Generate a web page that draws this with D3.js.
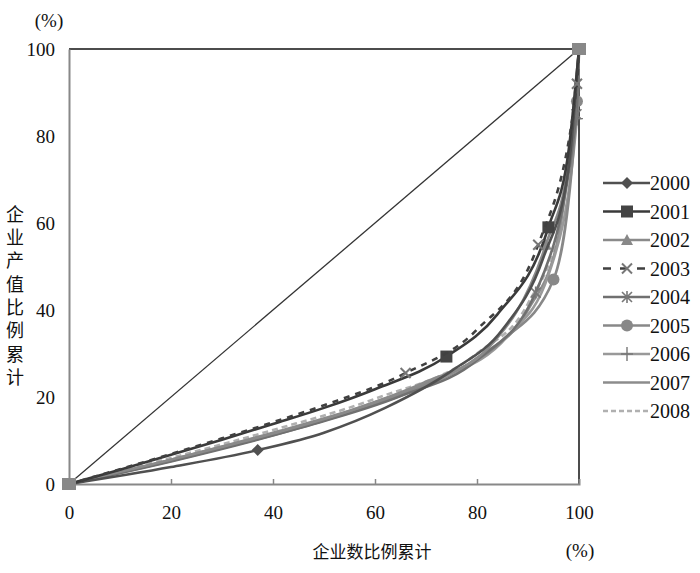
<!DOCTYPE html>
<html><head><meta charset="utf-8">
<script src="https://cdn.jsdelivr.net/npm/d3@7"></script>
<style>body{margin:0;background:#fff}</style>
</head><body>
<svg id="c" width="700" height="573"></svg>
<script>
const years = ["2000","2001","2002","2003","2004","2005","2006","2007","2008"];
const x2000 = [0, 20, 37, 50, 62, 75, 85, 93, 98, 100];
const y2000 = [0, 3.9, 7.8, 11.8, 17.5, 26, 35.5, 52, 73, 100];
const x2001 = [0, 10, 20, 30, 40, 50, 60, 74, 84, 94, 98, 100];
const y2001 = [0, 3.3, 6.7, 10.2, 13.8, 17.5, 21.8, 29.3, 39, 59, 77, 100];
const x2002 = [0, 20, 40, 55, 70, 82, 93.5, 98, 100];
const y2002 = [0, 5.6, 11.6, 16.8, 23.5, 31, 55, 74, 100];
const x2003 = [0, 10, 20, 30, 40, 50, 66, 80, 92, 99.6, 100];
const y2003 = [0, 3.4, 6.9, 10.5, 14.2, 18.1, 25.5, 35.5, 55, 92, 100];
const x2004 = [0, 20, 45, 65, 80, 91.5, 99.5, 100];
const y2004 = [0, 5.2, 12.8, 20.2, 28.5, 44, 85, 100];
const x2005 = [0, 20, 50, 70, 85, 95, 99.6, 100];
const y2005 = [0, 5.4, 14.6, 23, 33, 47, 88, 100];
const x2006 = [0, 20, 40, 55, 72, 86, 94, 99.6, 100];
const y2006 = [0, 5.3, 11.4, 16.4, 23.8, 34, 48, 84, 100];
const x2007 = [0, 20, 40, 60, 80, 90, 96, 100];
const y2007 = [0, 5.6, 11.8, 18.8, 29, 40, 57, 100];
const x2008 = [0, 20, 40, 60, 80, 90, 96, 100];
const y2008 = [0, 6, 12.4, 19.6, 30, 41.5, 59, 100];
const markedX = [[37], [74, 94], [93.5], [66, 92, 99.6], [91.5, 99.5], [95, 99.6], [99.6], [], []];
const xTicks = [0, 20, 40, 60, 80, 100];
const yTicks = [0, 20, 40, 60, 80, 100];

const seriesX = [x2000,x2001,x2002,x2003,x2004,x2005,x2006,x2007,x2008];
const seriesY = [y2000,y2001,y2002,y2003,y2004,y2005,y2006,y2007,y2008];
const styles = [
  {c:"#505050", w:2.6, dash:null, m:"diamond", mc:"#505050"},
  {c:"#3a3a3a", w:2.6, dash:null, m:"square", mc:"#444"},
  {c:"#8a8a8a", w:2.6, dash:null, m:"triangle", mc:"#888"},
  {c:"#404040", w:2.6, dash:"6,6", m:"x", mc:"#777"},
  {c:"#707070", w:2.6, dash:null, m:"star", mc:"#777"},
  {c:"#888888", w:2.6, dash:null, m:"circle", mc:"#888"},
  {c:"#999999", w:2.6, dash:null, m:"plus", mc:"#777"},
  {c:"#8c8c8c", w:2.6, dash:null, m:null},
  {c:"#b0b0b0", w:2.6, dash:"6,4", m:null}
];

const svg = d3.select("#c");
const x = d3.scaleLinear().domain([0,100]).range([69,579]);
const y = d3.scaleLinear().domain([0,100]).range([484,49]);
const numFont = "'Liberation Serif','Times New Roman',serif";
const cjkFont = "'Noto Sans CJK SC',sans-serif";

// frame
svg.append("line").attr("x1",x(0)).attr("x2",x(100)).attr("y1",y(100)).attr("y2",y(100)).attr("stroke","#111").attr("stroke-width",1.5);
svg.append("line").attr("x1",x(100)).attr("x2",x(100)).attr("y1",y(100)).attr("y2",y(0)).attr("stroke","#111").attr("stroke-width",1.5);

// axes
const xa = svg.append("g").attr("transform",`translate(0,${y(0)})`)
  .call(d3.axisBottom(x).tickValues(xTicks).tickSize(-5).tickPadding(22));
const ya = svg.append("g").attr("transform",`translate(${x(0)},0)`)
  .call(d3.axisLeft(y).tickValues(yTicks).tickSize(0).tickPadding(14));
[xa,ya].forEach(g=>{
  g.select(".domain").attr("stroke","#888").attr("stroke-width",2);
  g.selectAll(".tick line").attr("stroke","#888").attr("stroke-width",1.5);
  g.selectAll(".tick text").attr("font-family",numFont).attr("font-size",19).attr("fill","#111");
});
xa.selectAll(".tick line").filter(d=>d===0||d===100).remove();

// diagonal
svg.append("line").attr("x1",x(0)).attr("y1",y(0)).attr("x2",x(100)).attr("y2",y(100)).attr("stroke","#333").attr("stroke-width",1.3);

const line = d3.line().x(d=>x(d[0])).y(d=>y(d[1])).curve(d3.curveMonotoneX);

function marker(g, type, cx, cy, col){
  if(type==="diamond") g.append("path").attr("d",`M${cx},${cy-6}L${cx+6},${cy}L${cx},${cy+6}L${cx-6},${cy}Z`).attr("fill",col);
  else if(type==="square") g.append("rect").attr("x",cx-6).attr("y",cy-6).attr("width",12).attr("height",12).attr("fill",col);
  else if(type==="triangle") g.append("path").attr("d",`M${cx},${cy-6}L${cx+6},${cy+5}L${cx-6},${cy+5}Z`).attr("fill",col);
  else if(type==="circle") g.append("circle").attr("cx",cx).attr("cy",cy).attr("r",6).attr("fill",col);
  else if(type==="x") g.append("path").attr("d",`M${cx-5},${cy-5}L${cx+5},${cy+5}M${cx-5},${cy+5}L${cx+5},${cy-5}`).attr("stroke",col).attr("stroke-width",2);
  else if(type==="star") g.append("path").attr("d",`M${cx-5},${cy-5}L${cx+5},${cy+5}M${cx-5},${cy+5}L${cx+5},${cy-5}M${cx},${cy-6}L${cx},${cy+6}`).attr("stroke",col).attr("stroke-width",1.6);
  else if(type==="plus") g.append("path").attr("d",`M${cx},${cy-7}L${cx},${cy+7}M${cx-6},${cy}L${cx+6},${cy}`).attr("stroke",col).attr("stroke-width",1.4);
}

// series (draw lighter first)
const order = [8,7,6,5,4,2,0,1,3];
order.forEach(i=>{
  const pts = seriesX[i].map((v,k)=>[v, seriesY[i][k]]);
  const st = styles[i];
  const g = svg.append("g");
  g.append("path").datum(pts).attr("d",line).attr("fill","none").attr("stroke",st.c).attr("stroke-width",st.w)
    .attr("stroke-dasharray",st.dash);
  if(st.m){
    pts.filter(p=>markedX[i].includes(p[0])).forEach(p=>marker(g, st.m, x(p[0]), y(p[1]), st.mc));
  }
});
// end point markers
svg.append("rect").attr("x",x(0)-7).attr("y",y(0)-6).attr("width",14).attr("height",12).attr("fill","#888");
svg.append("rect").attr("x",x(100)-7).attr("y",y(100)-6).attr("width",14).attr("height",12).attr("fill","#888");

// legend
const lg = svg.append("g");
years.forEach((yr,i)=>{
  const ly = 183 + i*28.5;
  const st = styles[i];
  lg.append("line").attr("x1",603).attr("x2",650).attr("y1",ly).attr("y2",ly)
    .attr("stroke",st.c).attr("stroke-width",st.w).attr("stroke-dasharray",st.dash? (i===3?"8,9":"5,3"):null);
  if(st.m) marker(lg, st.m, 627, ly, st.mc);
  lg.append("text").attr("x",650).attr("y",ly+7).text(yr).attr("font-family",numFont).attr("font-size",20).attr("fill","#111");
});

// titles
svg.append("text").attr("x",49).attr("y",27).attr("text-anchor","middle").text("(%)").attr("font-family",numFont).attr("font-size",19).attr("fill","#111");
svg.append("text").attr("x",580).attr("y",557).attr("text-anchor","middle").text("(%)").attr("font-family",numFont).attr("font-size",19).attr("fill","#111");
svg.append("text").attr("x",372).attr("y",558).attr("text-anchor","middle").text("企业数比例累计").attr("font-family",cjkFont).attr("font-size",17).attr("fill","#111");
svg.append("text").attr("x",15).attr("y",205).attr("writing-mode","vertical-rl").attr("text-orientation","upright")
  .style("letter-spacing","5.3px").text("企业产值比例累计").attr("font-family",cjkFont).attr("font-size",18).attr("fill","#111");
</script>
</body></html>
